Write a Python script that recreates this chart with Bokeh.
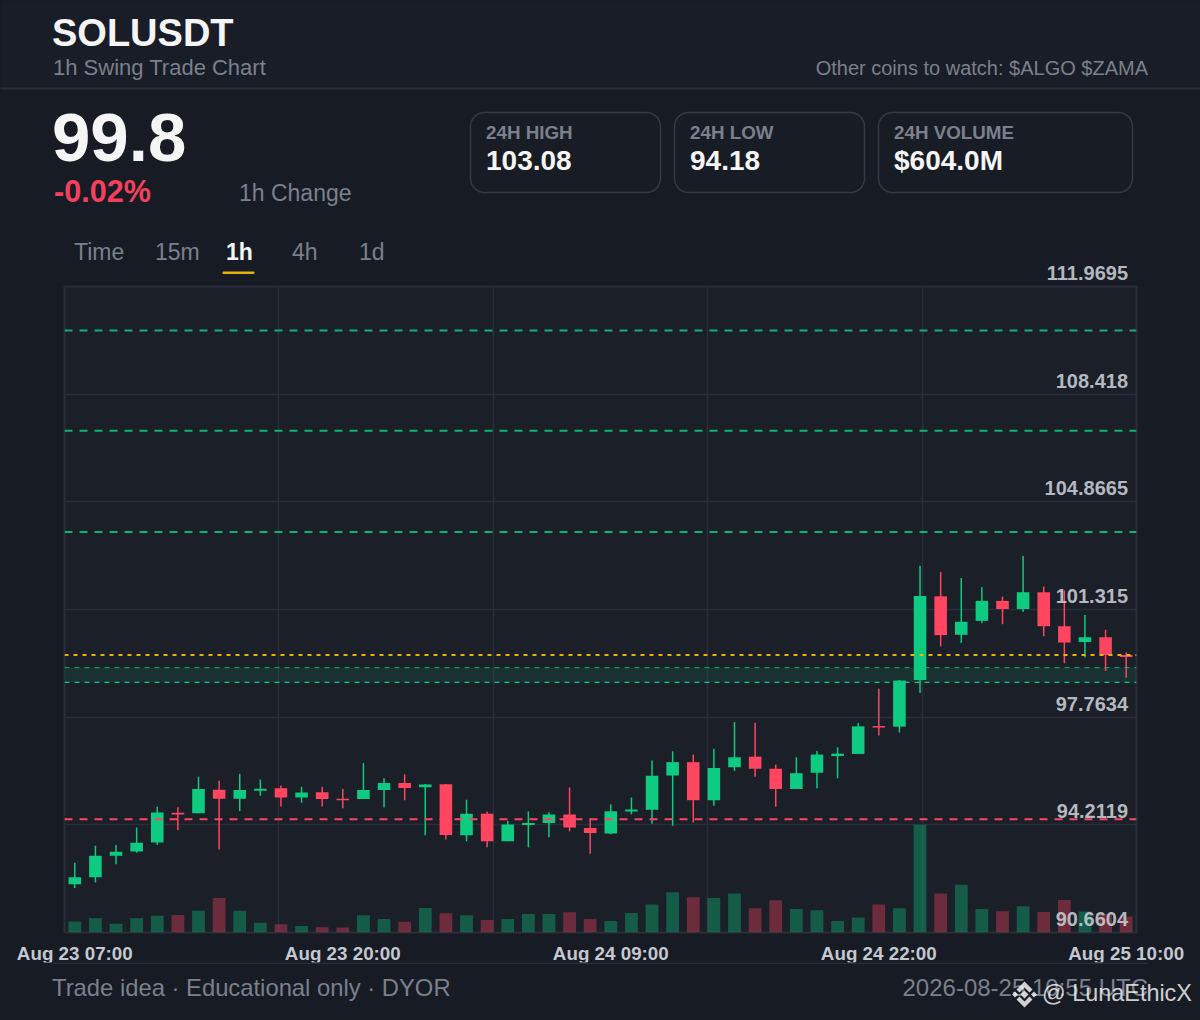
from bokeh.plotting import figure
from bokeh.layouts import column
from bokeh.models import ColumnDataSource, Range1d, FixedTicker, Label, Span, BoxAnnotation, PolyAnnotation
from bokeh.embed import file_html
from bokeh.resources import INLINE

# ---------- data ----------
symbol = "SOLUSDT"
subtitle = "1h Swing Trade Chart"
note = "Other coins to watch: $ALGO $ZAMA"
last_price = "99.8"
change_pct = "-0.02%"
change_label = "1h Change"
cards = [("24H HIGH", "103.08"), ("24H LOW", "94.18"), ("24H VOLUME", "$604.0M")]
tabs = ["Time", "15m", "1h", "4h", "1d"]
footer_left = "Trade idea · Educational only · DYOR"
footer_right = "2026-08-25 10:55 UTC"
watermark = "@ LunaEthicX"

opens = [92.25, 92.48, 93.19, 93.33, 93.63, 94.61, 94.59, 95.37, 95.07, 95.34, 95.42, 95.11, 95.29,
         95.07, 95.06, 95.36, 95.59, 95.45, 95.55, 93.87, 94.58, 93.67, 94.21, 94.27, 94.55, 94.11,
         93.93, 94.65, 94.71, 95.84, 96.28, 95.02, 96.11, 96.46, 96.06, 95.39, 95.93, 96.48, 96.55,
         97.47, 97.45, 98.99, 101.75, 100.48, 100.94, 101.60, 101.33, 101.88, 100.76, 100.24, 100.40, 99.81]
highs = [92.96, 93.52, 93.55, 94.12, 94.81, 94.79, 95.80, 95.67, 95.90, 95.71, 95.51, 95.47, 95.47,
         95.39, 96.25, 95.75, 95.88, 95.56, 95.56, 95.04, 94.65, 94.34, 94.65, 94.63, 95.44, 94.42,
         94.89, 95.11, 96.33, 96.64, 96.53, 96.72, 97.60, 97.58, 96.20, 96.44, 96.65, 96.77, 97.57,
         98.70, 98.99, 102.76, 102.55, 102.35, 102.06, 101.74, 103.08, 102.07, 101.94, 101.13, 100.65, 99.90]
lows = [92.13, 92.31, 92.91, 93.29, 93.55, 94.04, 94.59, 93.40, 94.67, 95.17, 94.82, 94.94, 94.82,
        94.76, 95.06, 94.78, 95.02, 93.87, 93.73, 93.67, 93.47, 93.67, 93.47, 93.80, 94.00, 93.26,
        93.90, 94.56, 94.25, 94.18, 94.29, 94.84, 95.99, 95.80, 94.81, 95.39, 95.42, 95.75, 96.55,
        97.16, 97.26, 98.56, 100.10, 100.21, 100.86, 100.83, 101.24, 100.43, 99.54, 99.73, 99.29, 99.06]
closes = [92.48, 93.19, 93.32, 93.62, 94.62, 94.55, 95.39, 95.07, 95.36, 95.40, 95.11, 95.28, 95.06,
          95.02, 95.36, 95.59, 95.43, 95.54, 93.88, 94.58, 93.67, 94.22, 94.27, 94.55, 94.12, 93.94,
          94.66, 94.72, 95.83, 96.28, 95.02, 96.09, 96.44, 96.06, 95.39, 95.91, 96.53, 96.56, 97.46,
          97.42, 98.97, 101.76, 100.47, 100.91, 101.60, 101.33, 101.88, 100.76, 100.23, 100.40, 99.81, 99.75]
volumes = [9.0, 11.7, 7.1, 11.7, 13.6, 14.4, 17.7, 28.3, 17.7, 7.9, 6.8, 5.4, 4.3,
           4.1, 14.1, 11.1, 8.7, 20.1, 15.8, 14.1, 10.3, 11.1, 15.2, 15.2, 16.6, 11.1,
           9.5, 16.0, 22.8, 32.9, 28.8, 28.3, 31.8, 19.8, 26.4, 19.3, 18.2, 9.5, 12.2,
           22.8, 19.8, 88.0, 31.8, 39.1, 19.3, 17.4, 21.5, 16.8, 26.6, 17.1, 15.2, 13.0]

price_ticks = [111.9695, 108.418, 104.8665, 101.315, 97.7634, 94.2119, 90.6604]
price_tick_labels = ["111.9695", "108.418", "104.8665", "101.315", "97.7634", "94.2119", "90.6604"]
time_tick_idx = [0, 13, 26, 39, 51]
time_tick_labels = ["Aug 23 07:00", "Aug 23 20:00", "Aug 24 09:00", "Aug 24 22:00", "Aug 25 10:00"]
time_grid = [9.9, 20.3, 30.7, 41.1]

targets = [110.52, 107.21, 103.87]
stop_level = 94.40
entry_low, entry_high = 98.91, 99.40
current = 99.81

# ---------- style ----------
BG = "#171b24"
HEADER = "#191d27"
CARD = "#181c25"
CARD_LINE = "#343945"
PANEL = "#1a1f28"
GRID = "#2a2e39"
GREEN = "#0ecb81"
RED = "#ff4560"
AMBER = "#eab308"
MUTED = "#7a808c"
WHITE = "#f5f5f5"
FONT = "Liberation Sans"
WIDTH = 1200
HEAD_H = 284     # header strip, page y 0..284
CHART_BOTTOM = 966
FOOT_TOP = 962   # footer strip, page y 962..1020 (overlaps the empty end of the chart's axis border)
F_L, F_R, F_T, F_B = 64, 1136, 286, 932


def chrome(top, bottom):
    """A borderless figure whose data units are page pixels (y downwards)."""
    f = figure(width=WIDTH, height=bottom - top, output_backend="svg", toolbar_location=None,
               x_range=Range1d(0, WIDTH), y_range=Range1d(bottom, top),
               min_border=0, background_fill_color=BG, border_fill_color=BG,
               outline_line_color=None, x_axis_location=None, y_axis_location=None, frame_align=False)
    f.xgrid.visible = False
    f.ygrid.visible = False
    return f


def lab(f, text, px, py, size, color=WHITE, bold=False, align="left", alpha=1.0):
    f.add_layout(Label(x=px - 0.5, y=py - 1, text=text, text_font=FONT, text_font_size=f"{size}px",
                       text_color=color, text_alpha=alpha, text_font_style="bold" if bold else "normal",
                       text_align=align, text_baseline="middle"))


def box(f, x0, y0, x1, y1, fill, line=None, radius=0):
    f.add_layout(BoxAnnotation(left=x0, right=x1, top=y0, bottom=y1, fill_color=fill, fill_alpha=1.0,
                               line_color=line, line_alpha=1.0, line_width=1.5, border_radius=radius,
                               level="underlay"))


# ---------- header ----------
head = chrome(0, HEAD_H)
box(head, -6, -6, WIDTH + 6, 88, HEADER)
box(head, -6, 87, WIDTH + 6, 89, GRID)
lab(head, symbol, 52, 33, 38, WHITE, True)
lab(head, subtitle, 53, 68, 22, MUTED)
lab(head, note, 1148, 68, 20, MUTED, align="right")
lab(head, last_price, 52, 138, 69, WHITE, True)
lab(head, change_pct, 54, 191, 30.6, "#f43f5e", True)
lab(head, change_label, 239, 193, 23, MUTED)
for (title, val), (x0, x1) in zip(cards, [(470, 660), (674, 864), (878, 1132)]):
    box(head, x0, 112, x1, 192, CARD, line=CARD_LINE, radius=14)
    lab(head, title, x0 + 16, 133, 18.8, MUTED, True)
    lab(head, val, x0 + 16, 161, 28, WHITE, True)
for t, x in zip(tabs, [74, 155, 226, 292, 359]):
    active = t == "1h"
    lab(head, t, x, 252, 23, WHITE if active else MUTED, active)
box(head, 222, 271, 254, 273.5, AMBER, radius=1)
# the top price label sits above the plot frame, where the chart figure would clip it
lab(head, price_tick_labels[0], 1128, 273, 20, "#c4c8d0", True, align="right", alpha=0.92)

# ---------- chart ----------
p = figure(width=WIDTH, height=CHART_BOTTOM - HEAD_H, output_backend="svg", toolbar_location=None,
           x_range=Range1d(-0.5, 51.5), y_range=Range1d(price_ticks[-1], price_ticks[0]),
           min_border_left=F_L, min_border_right=WIDTH - F_R, min_border_top=F_T - HEAD_H,
           min_border_bottom=CHART_BOTTOM - F_B, frame_align=False,
           background_fill_color=PANEL, border_fill_color=BG,
           outline_line_color=GRID, outline_line_width=2)
p.extra_y_ranges = {"vol": Range1d(0, max(volumes) * 6)}

p.xgrid.ticker = FixedTicker(ticks=time_grid)
p.ygrid.ticker = FixedTicker(ticks=price_ticks)
p.xgrid.grid_line_color = GRID
p.ygrid.grid_line_color = GRID
p.xgrid.grid_line_width = 1.5
p.ygrid.grid_line_width = 1.5
p.yaxis.visible = False

ax = p.xaxis[0]
ax.ticker = FixedTicker(ticks=time_tick_idx)
ax.major_label_overrides = dict(zip(time_tick_idx, time_tick_labels))
ax.axis_line_color = None
ax.major_tick_line_color = None
ax.minor_tick_line_color = None
ax.major_tick_out = 0
ax.major_tick_in = 0
ax.major_label_text_color = "#c4c8d0"
ax.major_label_text_font = FONT
ax.major_label_text_font_style = "bold"
ax.major_label_text_font_size = "18.8px"
ax.major_label_standoff = 10

idx = list(range(len(opens)))
colors = [GREEN if c >= o else RED for o, c in zip(opens, closes)]
src = ColumnDataSource(dict(x=idx, h=highs, l=lows, v=volumes, color=colors,
                            top=[max(a, b) for a, b in zip(opens, closes)],
                            bot=[min(a, b) for a, b in zip(opens, closes)]))

p.add_layout(BoxAnnotation(bottom=entry_low, top=entry_high, fill_color=GREEN, fill_alpha=0.11,
                           line_color=None, level="underlay"))
p.vbar(x="x", width=0.62, top="v", bottom=0, y_range_name="vol", source=src, fill_color="color",
       line_color=None, fill_alpha=0.36)
p.segment(x0="x", x1="x", y0="l", y1="h", source=src, line_color="color", line_width=1.5)
p.vbar(x="x", width=0.61, top="top", bottom="bot", source=src, fill_color="color", line_color=None)

for t in targets:
    p.add_layout(Span(location=t, dimension="width", line_color=GREEN, line_alpha=0.85, line_width=2,
                      line_dash="8 7"))
p.add_layout(Span(location=entry_high, dimension="width", line_color=GREEN, line_alpha=0.7, line_width=1.3,
                  line_dash="5 5"))
p.add_layout(Span(location=entry_low, dimension="width", line_color=GREEN, line_width=1.3, line_dash="5 5"))
p.add_layout(Span(location=stop_level, dimension="width", line_color=RED, line_width=2, line_dash="8 7"))
p.add_layout(Span(location=current, dimension="width", line_color=AMBER, line_width=2, line_dash="4 5"))

for v, t in list(zip(price_ticks, price_tick_labels))[1:]:
    p.add_layout(Label(x=1127.5 - F_L, y=v, x_units="screen", y_units="data", text=t, y_offset=13.5,
                       text_font=FONT, text_font_size="20px", text_font_style="bold",
                       text_color="#c4c8d0", text_alpha=0.92, text_align="right", text_baseline="middle"))

# ---------- footer ----------
foot = chrome(FOOT_TOP, 1020)
foot.margin = (FOOT_TOP - CHART_BOTTOM, 0, 0, 0)
box(foot, 52, FOOT_TOP, 1148, FOOT_TOP + 1.5, GRID)
lab(foot, footer_left, 52, 988, 23.8, MUTED)
lab(foot, footer_right, 1148, 988, 24, MUTED, align="right")
lab(foot, watermark, 1042, 993, 23.4, "#ffffff", alpha=0.8)
cx, cy = 1024, 994
logo = [
    [(0, -13), (8, -5), (5, -2), (0, -7), (-5, -2), (-8, -5)],
    [(0, 13), (8, 5), (5, 2), (0, 7), (-5, 2), (-8, 5)],
    [(0, -4), (4, 0), (0, 4), (-4, 0)],
    [(-9.5, -3), (-6.5, 0), (-9.5, 3), (-12.5, 0)],
    [(9.5, -3), (12.5, 0), (9.5, 3), (6.5, 0)],
]
for poly in logo:
    foot.add_layout(PolyAnnotation(xs=[cx + a for a, _ in poly], ys=[cy + b for _, b in poly],
                                   fill_color="#ffffff", fill_alpha=0.8, line_color=None, level="overlay"))

page = column(head, p, foot, spacing=0)
html = file_html(page, INLINE)
html = html.replace("<head>", f"<head><style>html,body{{margin:0;background:{BG};overflow:hidden}}</style>", 1)
open("out.html", "w").write(html)
